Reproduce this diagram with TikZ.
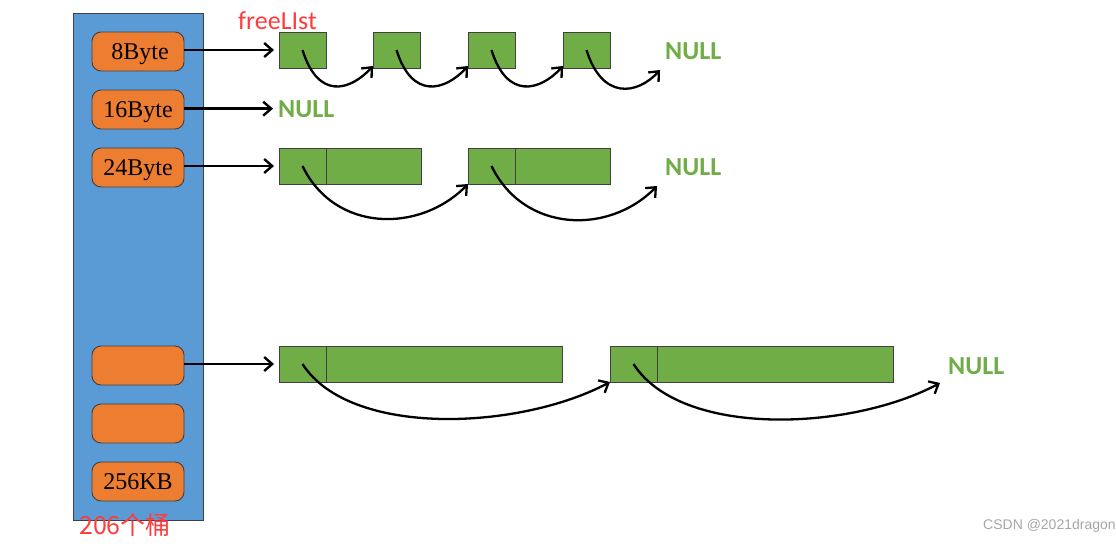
\documentclass[tikz,border=0pt]{standalone}
\usepackage{fontspec}
\setmainfont{Liberation Serif}
\newfontfamily\calib{Carlito}
\newfontfamily\cjk{Noto Sans CJK SC}
\newfontfamily\wmfont{Liberation Sans}
\usetikzlibrary{arrows.meta,calc}
\definecolor{bblue}{HTML}{5B9BD5}
\definecolor{borange}{HTML}{ED7D31}
\definecolor{bgreen}{HTML}{70AD47}
\definecolor{bred}{HTML}{FF3B3B}
\definecolor{bline}{HTML}{404040}
\definecolor{wmgray}{HTML}{A6A6A6}
\begin{document}
\begin{tikzpicture}[x=1pt,y=-1pt,
 bucketcol/.style={draw=bline, line width=0.9pt, fill=bblue, minimum width=130pt, minimum height=507pt, inner sep=0pt, outer sep=0pt, anchor=north west},
 slot/.style={draw=bline, line width=0.9pt, fill=borange, rounded corners=9pt, minimum width=92pt, minimum height=39pt, inner sep=0pt, outer sep=0pt, text height=15pt, text depth=0pt, font=\fontsize{24}{24}\selectfont},
 cell/.style={draw=bline, line width=0.9pt, fill=bgreen, minimum height=36pt, inner sep=0pt, outer sep=0pt, anchor=north west},
 nulltxt/.style={text=bgreen, font=\calib\bfseries\fontsize{26}{26}\selectfont, anchor=base west, inner sep=0pt},
 ptr/.style={line width=2.8pt, -{Straight Barb[length=8pt,width=14pt,line width=2.4pt]}, shorten >=5pt},
 link/.style={line width=2.3pt, -{Straight Barb[length=8pt,width=14pt,line width=2.3pt]}},
]
\useasboundingbox (0,0) rectangle (1116,549);
% bucket column
\node[bucketcol] (col) at (73,13) {};
\node[slot] (s1) at (138,51.5) {\,8Byte};
\node[slot] (s2) at (138,109.5) {16Byte};
\node[slot] (s3) at (138,167.5) {24Byte};
\node[slot] (s4) at (138,365.5) {};
\node[slot] (s5) at (138,423.5) {};
\node[slot] (s6) at (138,481.5) {256KB};
% labels
\node[anchor=base west, inner sep=0pt, text=bred, font=\calib\fontsize{26}{26}\selectfont] (fl) at (238,29) {freeLIst};
\node[anchor=base west, inner sep=0pt, text=bred, font=\cjk\fontsize{25}{25}\selectfont] (cnt) at (79,534) {206个桶};
\node[anchor=base west, inner sep=0pt, text=wmgray, font=\wmfont\fontsize{14}{14}\selectfont] (wm) at (983,529) {CSDN @2021dragon};
% row 1
\node[cell, minimum width=47pt] (g11) at (279,32) {};
\node[cell, minimum width=47pt] (g12) at (373,32) {};
\node[cell, minimum width=47pt] (g13) at (468,32) {};
\node[cell, minimum width=47pt] (g14) at (563,32) {};
\node[nulltxt] (n1) at (665,59) {NULL};
% row 2
\node[nulltxt] (n2) at (278,117) {NULL};
% row 3
\node[cell, minimum width=47pt] (g31a) at (279,148) {};
\node[cell, minimum width=95pt] (g31b) at (326,148) {};
\node[cell, minimum width=47pt] (g32a) at (468,148) {};
\node[cell, minimum width=95pt] (g32b) at (515,148) {};
\node[nulltxt] (n3) at (665,175) {NULL};
% row 4
\node[cell, minimum width=47pt] (g41a) at (279,346) {};
\node[cell, minimum width=236pt] (g41b) at (326,346) {};
\node[cell, minimum width=47pt] (g42a) at (610,346) {};
\node[cell, minimum width=236pt] (g42b) at (657,346) {};
\node[nulltxt] (n4) at (948,374) {NULL};
% free ends near NULL
\coordinate (e1) at (660,70);
\coordinate (e3) at (657,186);
\coordinate (e4) at (940,383);
% bucket pointers
\draw[ptr] (s1.east |- g11.west) -- (g11.west);
\draw[ptr] (s2.east |- n2.west) -- (n2.west);
\draw[ptr] (s3.east |- g31a.west) -- (g31a.west);
\draw[ptr] (s4.east |- g41a.west) -- (g41a.west);
% row 1 links
\draw[link] (g11.center) .. controls +(15.5,50) and +(-23,25) .. ([yshift=2pt]g12.south west);
\draw[link] (g12.center) .. controls +(15.5,50) and +(-23,25) .. ([yshift=2pt]g13.south west);
\draw[link] (g13.center) .. controls +(15.5,50) and +(-23,25) .. ([yshift=2pt]g14.south west);
\draw[link] (g14.center) .. controls +(15.5,50) and +(-23,25) .. (e1);
% row 3 links
\draw[link] (g31a.center) .. controls +(32.5,67) and +(-48,49) .. (g32a.south west);
\draw[link] (g32a.center) .. controls +(32.5,67) and +(-48,49) .. (e3);
% row 4 links
\draw[link] (g41a.center) .. controls +(47.5,74) and +(-90,48) .. (g42a.south west);
\draw[link] (g42a.center) .. controls +(47.5,74) and +(-90,48) .. (e4);
\end{tikzpicture}
\end{document}
